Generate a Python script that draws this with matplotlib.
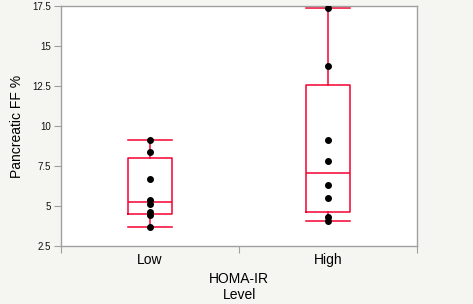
import numpy as np
import matplotlib
matplotlib.use("Agg")
import matplotlib.pyplot as plt

plt.rcParams['font.family'] = ['Liberation Sans', 'DejaVu Sans']

# data
groups = ['Low', 'High']
low_ff = [3.7, 4.45, 4.6, 5.1, 5.4, 6.7, 8.4, 9.15]
high_ff = [4.08, 4.33, 5.5, 6.31, 7.79, 9.1, 13.73, 17.375]
y_ticks = [2.5, 5, 7.5, 10, 12.5, 15, 17.5]

box_red = '#f70030'
spine_gray = '#a0a0a0'

fig = plt.figure(figsize=(4.73, 3.04), dpi=100, facecolor='#f5f5f1')
ax = fig.add_axes([0.129, 0.191, 0.753, 0.789])

positions = [0.5, 1.5]
stats = []
for vals, name in zip([low_ff, high_ff], groups):
    v = np.array(vals)
    q1, med, q3 = np.percentile(v, [25, 50, 75], method='weibull')
    stats.append(dict(label=name, med=med, q1=q1, q3=q3,
                      whislo=v.min(), whishi=v.max(), fliers=[]))

red = dict(color=box_red, linewidth=1.1)
ax.bxp(stats, positions=positions, widths=0.25, boxprops=red, medianprops=red,
       whiskerprops=red, capprops=red, capwidths=0.25, showfliers=False,
       manage_ticks=False)

for pos, vals in zip(positions, [low_ff, high_ff]):
    ax.plot([pos] * len(vals), vals, 'o', color='black', markersize=4, zorder=3)

ax.set_xlim(0, 2)
ax.set_ylim(2.5, 17.5)
ax.set_yticks(y_ticks)
ax.set_yticklabels(['2.5', '5', '7.5', '10', '12.5', '15', '17.5'], fontsize=7, color='#111111')
ax.set_xticks([0, 1, 2])
ax.set_xticklabels([])
ax.set_xticks(positions, minor=True)
ax.set_xticklabels(groups, minor=True, fontsize=10)
ax.tick_params(axis='x', which='minor', length=0, pad=5)
ax.tick_params(axis='x', which='major', length=5, color=spine_gray)
ax.tick_params(axis='y', length=5, color=spine_gray, pad=2)

for s in ax.spines.values():
    s.set_color(spine_gray)
    s.set_linewidth(1.0)

ax.set_ylabel('Pancreatic FF %', fontsize=10, labelpad=6)
ax.set_xlabel('HOMA-IR\nLevel', fontsize=10, labelpad=4, linespacing=1.1)

fig.savefig('out.png', dpi=100, facecolor=fig.get_facecolor())
